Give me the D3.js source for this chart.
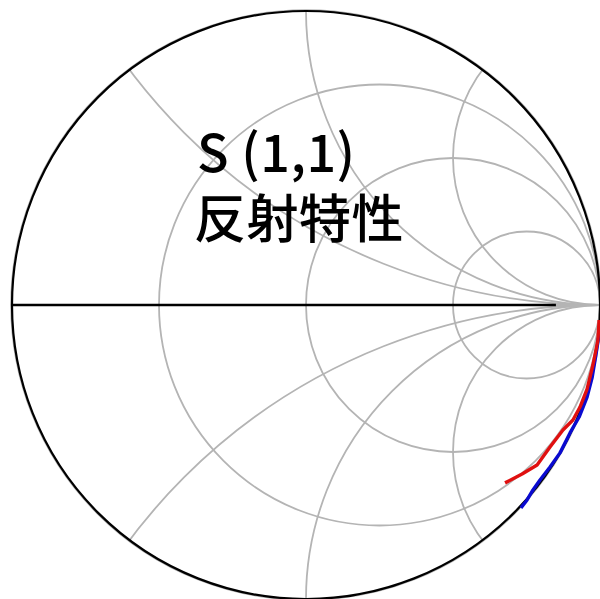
<!DOCTYPE html>
<html>
<head>
<meta charset="utf-8">
<script src="https://cdn.jsdelivr.net/npm/d3@7"></script>
<style>
  body { margin: 0; background: #fff; }
  svg { display: block; }
</style>
</head>
<body>
<div id="chart"></div>
<script>
// Smith chart grid values
var resistances = [1 / 3, 1, 3];
var reactances = [0.5, 1, 2, -0.5, -1, -2];

// S11 traces, reflection coefficient (re, im)
var redRe = [0.997, 0.993, 0.976, 0.956, 0.932, 0.908, 0.874, 0.830, 0.786, 0.735, 0.677];
var redIm = [-0.051, -0.119, -0.204, -0.286, -0.347, -0.391, -0.425, -0.483, -0.544, -0.575, -0.605];
var blueRe = [0.997, 0.986, 0.973, 0.956, 0.929, 0.898, 0.864, 0.830, 0.796, 0.772, 0.752, 0.731];
var blueIm = [-0.099, -0.170, -0.248, -0.313, -0.381, -0.435, -0.503, -0.551, -0.595, -0.629, -0.663, -0.690];

var titleLines = ["S (1,1)", "反射特性"];

var svgWidth = 600;
var svgHeight = 599;
var cx = 306, cy = 305, R = 294;

var svg = d3.select("#chart")
  .append("svg")
  .attr("width", svgWidth)
  .attr("height", svgHeight);

var xScale = d3.scaleLinear().domain([-1, 1]).range([cx - R, cx + R]);
var yScale = d3.scaleLinear().domain([-1, 1]).range([cy + R, cy - R]);
var len = d => xScale(d) - xScale(0);

svg.append("clipPath")
  .attr("id", "unit")
  .append("circle")
  .attr("cx", xScale(0))
  .attr("cy", yScale(0))
  .attr("r", len(1));

var grid = svg.append("g")
  .attr("clip-path", "url(#unit)")
  .attr("fill", "none")
  .attr("stroke", "#b4b4b4")
  .attr("stroke-width", 1.8);

// constant resistance circles
grid.selectAll(".rcircle")
  .data(resistances)
  .enter()
  .append("circle")
  .attr("cx", r => xScale(r / (1 + r)))
  .attr("cy", yScale(0))
  .attr("r", r => len(1 / (1 + r)));

// constant reactance arcs
grid.selectAll(".xcircle")
  .data(reactances)
  .enter()
  .append("circle")
  .attr("cx", xScale(1))
  .attr("cy", x => yScale(1 / x))
  .attr("r", x => len(1 / Math.abs(x)));

grid.append("line")
  .attr("x1", xScale(-1)).attr("x2", xScale(1))
  .attr("y1", yScale(0)).attr("y2", yScale(0));

// outer circle
svg.append("circle")
  .attr("cx", xScale(0))
  .attr("cy", yScale(0))
  .attr("r", len(1) + 1)
  .attr("fill", "none")
  .attr("stroke", "#b4b4b4")
  .attr("stroke-width", 1.5);

svg.append("circle")
  .attr("cx", xScale(0))
  .attr("cy", yScale(0))
  .attr("r", len(1))
  .attr("fill", "none")
  .attr("stroke", "#000")
  .attr("stroke-width", 2.2);

svg.append("line")
  .attr("x1", xScale(-1)).attr("x2", xScale(0.85))
  .attr("y1", yScale(0)).attr("y2", yScale(0))
  .attr("stroke", "#000")
  .attr("stroke-width", 2.4);

// traces
var line = d3.line()
  .x(d => xScale(d[0]))
  .y(d => yScale(d[1]));

var traces = [
  { pts: d3.zip(blueRe, blueIm), color: "#0a0ad0" },
  { pts: d3.zip(redRe, redIm), color: "#e01010" }
];

svg.selectAll(".trace")
  .data(traces)
  .enter()
  .append("path")
  .attr("class", "trace")
  .attr("d", d => line(d.pts))
  .attr("fill", "none")
  .attr("stroke", d => d.color)
  .attr("stroke-width", 3.4)
  .attr("stroke-linejoin", "round");

// title, two lines in one label
var title = svg.append("text")
  .style("font-family", "'Noto Sans CJK JP', 'Noto Sans', sans-serif")
  .style("font-size", "52px")
  .style("font-weight", 500)
  .style("fill", "#000");

title.selectAll("tspan")
  .data(titleLines)
  .enter()
  .append("tspan")
  .attr("x", (d, i) => i === 0 ? 197 : 194)
  .attr("y", (d, i) => i === 0 ? 172 : 238)
  .style("letter-spacing", (d, i) => i === 0 ? "0.5px" : "0.5px")
  .text(d => d);
</script>
</body>
</html>
